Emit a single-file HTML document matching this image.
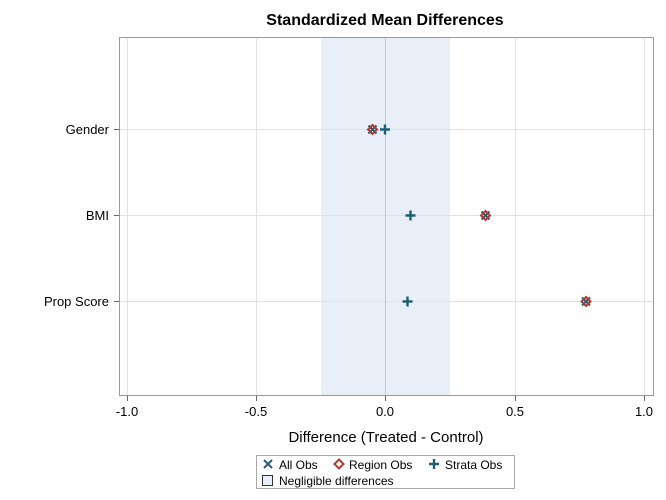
<!DOCTYPE html>
<html><head><style>body{margin:0;background:#fff}svg{display:block}text{font-family:"Liberation Sans",sans-serif}</style></head>
<body>
<svg width="666" height="500" viewBox="0 0 666 500">
<rect width="666" height="500" fill="#fff"/>
<text x="385" y="25" text-anchor="middle" font-size="16" font-weight="bold">Standardized Mean Differences</text>
<rect x="321" y="38" width="129" height="357" fill="#e8eff8"/>
<g stroke="#e2e2e2" stroke-width="1">
<line x1="127.5" y1="38" x2="127.5" y2="395"/><line x1="256.5" y1="38" x2="256.5" y2="395"/>
<line x1="515.5" y1="38" x2="515.5" y2="395"/><line x1="644.5" y1="38" x2="644.5" y2="395"/>
<line x1="120" y1="129.5" x2="653" y2="129.5"/><line x1="120" y1="215.5" x2="653" y2="215.5"/><line x1="120" y1="301.5" x2="653" y2="301.5"/>
</g>
<line x1="385.5" y1="38" x2="385.5" y2="395" stroke="#c4c8cc"/>
<rect x="119.5" y="37.5" width="534" height="358" fill="none" stroke="#999"/>
<g stroke="#666"><line x1="127.5" y1="396" x2="127.5" y2="401"/><line x1="256.5" y1="396" x2="256.5" y2="401"/><line x1="385.5" y1="396" x2="385.5" y2="401"/><line x1="515.5" y1="396" x2="515.5" y2="401"/><line x1="644.5" y1="396" x2="644.5" y2="401"/>
<line x1="114" y1="129.5" x2="119" y2="129.5"/><line x1="114" y1="215.5" x2="119" y2="215.5"/><line x1="114" y1="301.5" x2="119" y2="301.5"/></g>
<g font-size="13" text-anchor="middle"><text x="127" y="416">-1.0</text><text x="256" y="416">-0.5</text><text x="385" y="416">0.0</text><text x="515" y="416">0.5</text><text x="644" y="416">1.0</text></g>
<g font-size="13" text-anchor="end"><text x="109" y="134">Gender</text><text x="109" y="220">BMI</text><text x="109" y="306">Prop Score</text></g>
<text x="386" y="442" text-anchor="middle" font-size="15">Difference (Treated - Control)</text>
<defs>
<g id="ar"><path d="M-4,-4L4,4M-4,4L4,-4" stroke="#2a5a7a" stroke-width="2"/><path d="M0,-4.5L4.5,0L0,4.5L-4.5,0Z" fill="none" stroke="#b03a2e" stroke-width="2"/></g>
<path id="pl" d="M-5,0H5M0,-5V5" stroke="#1f5f6f" stroke-width="2.4"/>
</defs>
<use href="#ar" x="372.5" y="129.5"/><use href="#pl" x="385" y="129.5"/>
<use href="#ar" x="485.5" y="215.5"/><use href="#pl" x="410.5" y="215.5"/>
<use href="#ar" x="586" y="301.5"/><use href="#pl" x="407.5" y="301.5"/>
<rect x="256.5" y="455.5" width="258" height="33" fill="#fff" stroke="#aaa"/>
<path d="M264,460L272,468M264,468L272,460" stroke="#2a5a7a" stroke-width="2"/>
<text x="279" y="469" font-size="12">All Obs</text>
<path d="M339,459.5L343.5,464L339,468.5L334.5,464Z" fill="none" stroke="#b03a2e" stroke-width="2"/>
<text x="349" y="469" font-size="12">Region Obs</text>
<path d="M429,464H439M434,459V469" stroke="#1f5f6f" stroke-width="2.4"/>
<text x="445" y="469" font-size="12">Strata Obs</text>
<rect x="262.5" y="475.5" width="10" height="10" fill="#e8eff8" stroke="#333"/>
<text x="279" y="485" font-size="12">Negligible differences</text>
</svg>
</body></html>
